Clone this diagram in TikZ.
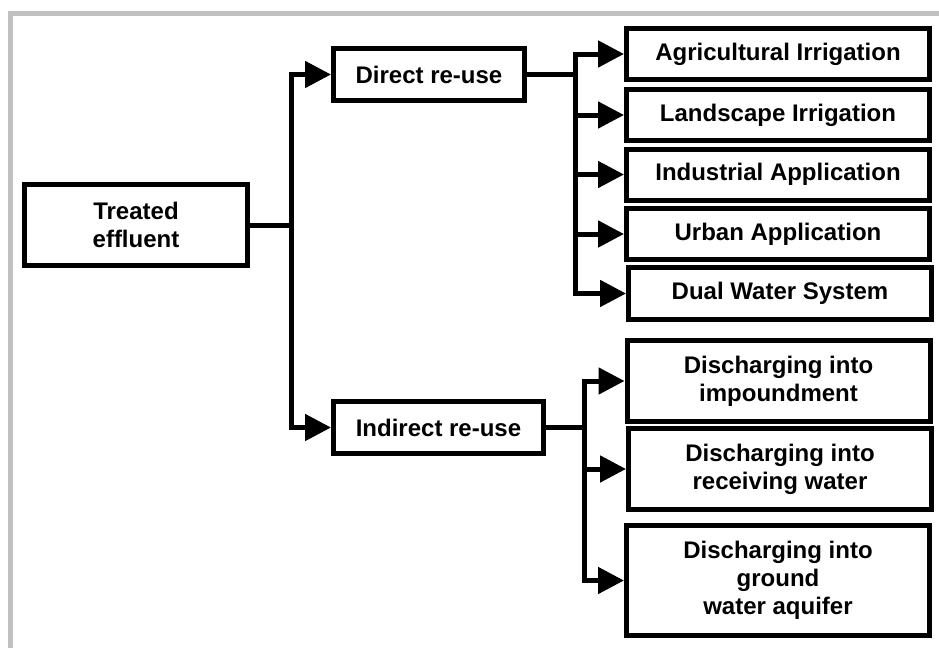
\documentclass[tikz,border=0pt]{standalone}
\usepackage{fontspec}
\setmainfont{Liberation Sans}
\usepackage{xcolor}
\usepackage{tikz}
\usetikzlibrary{arrows.meta}
\definecolor{framegray}{RGB}{192,192,192}

\begin{document}
\begin{tikzpicture}[x=0.5pt,y=-0.5pt,
box/.style={draw,line width=2.5pt,align=center,inner sep=0pt,font=\bfseries\fontsize{12}{14}\selectfont},
leaf/.style={box,minimum width=151.5pt},
link/.style={-,line width=2.5pt,color=black},
arr/.style={-{Triangle[length=13pt,width=13pt]},line width=2.5pt,color=black}]
\useasboundingbox (0,0) rectangle (939,648);
\draw[line width=2.5pt,color=framegray] (10.5,648)--(10.5,13.5)--(939,13.5);
\node[box,minimum width=111.5pt,minimum height=40.5pt] (TE) at (136,225) {Treated\\effluent};
\node[box,minimum width=95.5pt,minimum height=26pt] (DR) at (429,74.5) {Direct re-use};
\node[box,minimum width=105pt,minimum height=26pt] (IR) at (438.5,427.5) {Indirect re-use};
\node[leaf,minimum height=25.5pt] (R1) at (778,54) {Agricultural Irrigation};
\node[leaf,minimum height=25.5pt] (R2) at (778,115) {Landscape Irrigation};
\node[leaf,minimum height=25.5pt] (R3) at (778,174.5) {Industrial Application};
\node[leaf,minimum height=25.5pt] (R4) at (778,234) {Urban Application};
\node[leaf,minimum height=26pt] (R5) at (780,293.5) {Dual Water System};
\node[leaf,minimum height=40.5pt] (S1) at (778.5,381) {Discharging into\\impoundment};
\node[leaf,minimum height=40.5pt] (S2) at (780,469) {Discharging into\\receiving water};
\node[leaf,minimum height=55pt] (S3) at (778,580.5) {Discharging into\\ground\\water aquifer};
\coordinate (J1) at (291,225);
\coordinate (J2) at (575,74.5);
\coordinate (J3) at (584,427.5);
\draw[link] (TE.east)--(J1);
\draw[arr] (J1) |- (DR);
\draw[arr] (J1) |- (IR);
\draw[link] (DR.east)--(J2);
\draw[arr] (J2) |- (R1);
\draw[arr] (J2) |- (R2);
\draw[arr] (J2) |- (R3);
\draw[arr] (J2) |- (R4);
\draw[arr] (J2) |- (R5);
\draw[link] (IR.east)--(J3);
\draw[arr] (J3) |- (S1);
\draw[arr] (J3) |- (S2);
\draw[arr] (J3) |- (S3);
\end{tikzpicture}
\end{document}
